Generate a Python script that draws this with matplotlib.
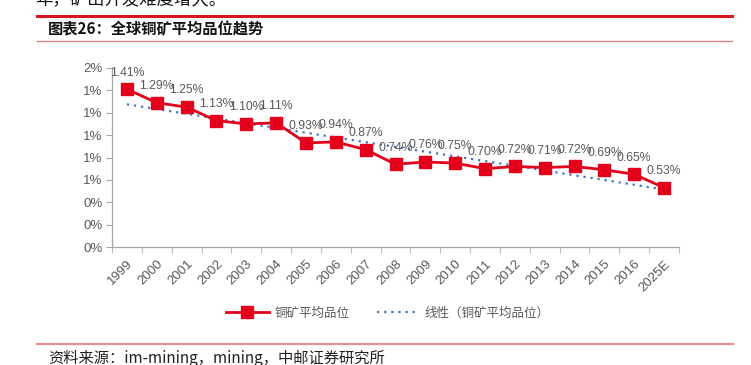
import numpy as np
import matplotlib
matplotlib.use("Agg")
import matplotlib.pyplot as plt
from matplotlib.lines import Line2D
from matplotlib.ticker import FuncFormatter, FixedLocator

plt.rcParams['font.family'] = ['Liberation Sans', 'Noto Sans CJK SC', 'DejaVu Sans']

years = ["1999", "2000", "2001", "2002", "2003", "2004", "2005", "2006", "2007",
         "2008", "2009", "2010", "2011", "2012", "2013", "2014", "2015", "2016", "2025E"]
grade = [1.41, 1.29, 1.25, 1.13, 1.10, 1.11, 0.93, 0.94, 0.87,
         0.74, 0.76, 0.75, 0.70, 0.72, 0.71, 0.72, 0.69, 0.65, 0.53]
y_ticks = [0.0, 0.2, 0.4, 0.6, 0.8, 1.0, 1.2, 1.4, 1.6]

W, H = 751, 365
fig = plt.figure(figsize=(W / 100, H / 100), dpi=100)

def fx(px):
    return px / W

def fy(py):
    return 1 - py / H

ax = fig.add_axes([fx(112), fy(247), (679 - 112) / W, (247 - 68) / H])

x = np.arange(len(years))
red = '#E3001B'
blue = '#4472C4'
gray = '#595959'

line_main, = ax.plot(x, grade, color=red, lw=2.0, marker='s', markersize=8.5,
                     markerfacecolor=red, markeredgecolor=red, zorder=3)
coef = np.polyfit(x, grade, 1)
trend = np.polyval(coef, x)
line_trend, = ax.plot(x, trend, color=blue, lw=1.6, linestyle=(0, (1, 2.2)), zorder=2)

for xi, v in zip(x, grade):
    ax.annotate(f"{v:.2f}%", (xi, v), xytext=(0, 12), textcoords='offset points',
                ha='center', va='center', fontsize=8.8, color=gray)

ax.set_xlim(-0.5, len(years) - 0.5)
ax.set_ylim(0, 1.6)
ax.yaxis.set_major_locator(FixedLocator(y_ticks))
ax.yaxis.set_major_formatter(FuncFormatter(lambda v, p: f"{v:.0f}%"))
ax.tick_params(axis='y', labelsize=9.5, colors=gray, length=4, width=0.8, color='#A6A6A6', pad=3)

ax.set_xticks(x)
ax.set_xticklabels(years, rotation=45, ha='right', va='top', rotation_mode='anchor',
                   fontsize=9.5, color=gray)
ax.tick_params(axis='x', length=0, pad=8)
ax.set_xticks(np.arange(-0.5, len(years), 1.0), minor=True)
ax.tick_params(axis='x', which='minor', length=4, width=0.8, color='#BFBFBF')

for s in ['top', 'right']:
    ax.spines[s].set_visible(False)
for s in ['left', 'bottom']:
    ax.spines[s].set_color('#A6A6A6')
    ax.spines[s].set_linewidth(0.9)

leg = fig.legend([line_main, line_trend], ["铜矿平均品位", "线性（铜矿平均品位）"],
                 loc='center', bbox_to_anchor=(fx(388), fy(313)), ncol=2, frameon=False,
                 handlelength=3.4, columnspacing=2.2, handletextpad=0.45,
                 prop={'family': ['Noto Sans CJK SC', 'DejaVu Sans'], 'size': 9})
for t in leg.get_texts():
    t.set_color(gray)

# header / footer
fig.add_artist(Line2D([fx(37), fx(732)], [fy(16), fy(16)], color='#D7161E', lw=2.2))
fig.add_artist(Line2D([fx(37), fx(732)], [fy(41), fy(41)], color='#E08080', lw=1.0))
fig.add_artist(Line2D([fx(37), fx(733)], [fy(344), fy(344)], color='#E89090', lw=1.6))

fig.text(fx(48), fy(29), "图表26：全球铜矿平均品位趋势", fontsize=11, fontweight='bold',
         family=['Noto Sans CJK SC', 'DejaVu Sans'], ha='left', va='center', color='#111111')
fig.text(fx(35), fy(5), "年，矿山开发难度增大。", fontsize=12.5,
         family=['Noto Sans CJK SC', 'DejaVu Sans'], ha='left', va='baseline', color='#111111')
fig.text(fx(48), fy(358), "资料来源：im-mining，mining，中邮证券研究所", fontsize=11,
         family=['Noto Sans CJK SC', 'DejaVu Sans'], ha='left', va='center', color='#222222')

fig.savefig("out.png", dpi=100)
